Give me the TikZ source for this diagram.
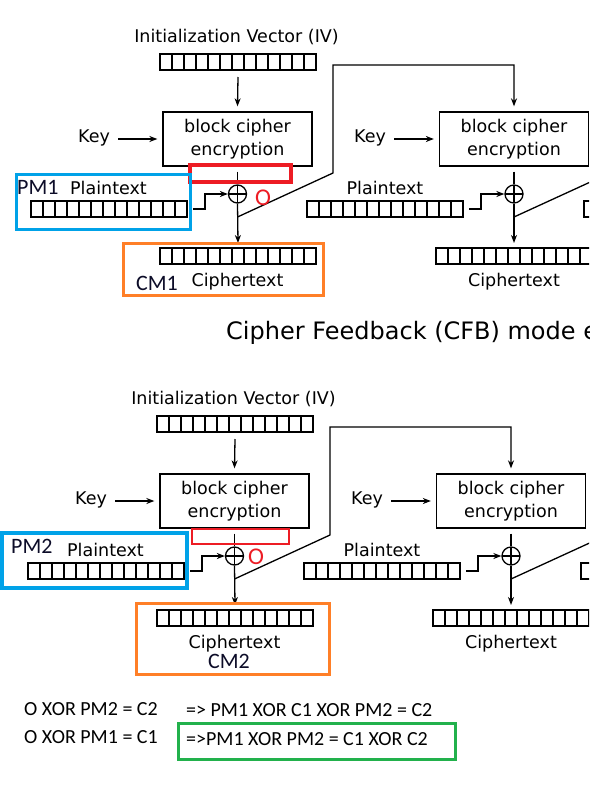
\documentclass[tikz,border=0pt]{standalone}
\usepackage{fontspec}
\setmainfont{DejaVu Sans}
\newfontfamily\calib{Carlito}
\usetikzlibrary{arrows.meta,calc}
\definecolor{annRed}{RGB}{237,28,36}
\definecolor{annBlue}{RGB}{0,162,232}
\definecolor{annOrange}{RGB}{255,127,39}
\definecolor{annGreen}{RGB}{34,177,76}
\definecolor{annInk}{RGB}{12,12,40}
\tikzset{
  wire/.style={line width=1.3pt, black},
  arr/.style={wire, -{Stealth[length=8pt,width=6pt,inset=2.5pt]}},
  register/.style={draw, line width=1.3pt, minimum width=156pt, minimum height=16pt,
    inner sep=0pt, outer sep=0pt,
    path picture={\foreach \i in {1,...,12}{\draw[line width=1.3pt]
      ($(path picture bounding box.south west)!\i/13!(path picture bounding box.south east)$) --
      ($(path picture bounding box.north west)!\i/13!(path picture bounding box.north east)$);}}},
  cipherbox/.style={draw, line width=1.3pt, minimum width=149pt, minimum height=54pt,
    inner sep=0pt, align=center, font=\fontsize{17.5}{22.5}\selectfont},
  xorgate/.style={draw, circle, line width=1.3pt, minimum size=18pt, inner sep=0pt,
    path picture={\draw[line width=1.3pt]
      (path picture bounding box.north) -- (path picture bounding box.south)
      (path picture bounding box.west) -- (path picture bounding box.east);}},
  lbl/.style={font=\fontsize{17.5}{21}\selectfont, inner sep=0pt, anchor=base},
  titlelbl/.style={font=\fontsize{24}{28}\selectfont, inner sep=0pt, anchor=base west},
  annbox/.style={line width=3pt},
  anntext/.style={font=\calib\fontsize{22}{26}\selectfont, text=annInk, inner sep=0pt, anchor=base west},
  anno/.style={font=\calib\fontsize{24}{28}\selectfont, text=annRed, inner sep=0pt, anchor=base west},
  eqtext/.style={font=\calib\fontsize{20}{24}\selectfont, text=black, inner sep=0pt, anchor=base west},
}
\newcommand{\cfbpanel}[1]{%
  % first block
  \node[lbl] (#1ivlbl) at (236.5,42.3) {Initialization Vector (IV)};
  \node[register] (#1iv) at (238,62) {};
  \node[cipherbox] (#1ciphA) at (237.5,139) {block cipher\\encryption};
  \node[lbl] (#1keyA) at (94,142.7) {Key};
  \node[xorgate] (#1xorA) at (237.5,194) {};
  \node[register] (#1ptA) at (109,209) {};
  \node[lbl] (#1ptAlbl) at (108.5,194.5) {Plaintext};
  \node[register] (#1ctA) at (238,256) {};
  \node[lbl] (#1ctAlbl) at (237.5,286.5) {Ciphertext};
  \coordinate (#1jA) at (237.5,217);
  \draw[arr] ([yshift=-7pt]#1iv.south) -- ([yshift=5pt]#1ciphA.north);
  \draw[arr] ([xshift=8pt]#1keyA.east |- #1ciphA.west) -- ([xshift=-5pt]#1ciphA.west);
  \draw[wire] ([yshift=-5pt]#1ciphA.south) -- (#1xorA.north);
  \draw[arr] (#1xorA.south) -- ([yshift=5pt]#1ctA.north);
  \draw[arr] ([xshift=6pt]#1ptA.east) -- ++(12,0) |- (#1xorA.west);
  % second block
  \node[cipherbox] (#1ciphB) at (514,139) {block cipher\\encryption};
  \node[lbl] (#1keyB) at (370,142.7) {Key};
  \node[xorgate] (#1xorB) at (514,194) {};
  \node[register] (#1ptB) at (385,209) {};
  \node[lbl] (#1ptBlbl) at (385,194.5) {Plaintext};
  \node[register] (#1ctB) at (514,256) {};
  \node[lbl] (#1ctBlbl) at (514,286.5) {Ciphertext};
  \coordinate (#1jB) at (514,217);
  \draw[arr] (#1jA) -- (333,173) -- (333,65) -| ([yshift=5pt]#1ciphB.north);
  \draw[arr] ([xshift=8pt]#1keyB.east |- #1ciphB.west) -- ([xshift=-5pt]#1ciphB.west);
  \draw[wire] ([yshift=-5pt]#1ciphB.south) -- (#1xorB.north);
  \draw[arr] (#1xorB.south) -- ([yshift=5pt]#1ctB.north);
  \draw[arr] ([xshift=6pt]#1ptB.east) -- ++(12,0) |- (#1xorB.west);
  % third block (mostly outside)
  \node[register] (#1ptC) at (662,209) {};
  \coordinate (#1fbC) at (610,173);
  \draw[wire] (#1jB) -- (#1fbC);
}
\begin{document}
\begin{tikzpicture}[x=1pt,y=-1pt]
  \useasboundingbox (0,0) rectangle (589,803);
  \fill[white] (0,0) rectangle (589,803);
  \clip (0,0) rectangle (589,803);
  % top panel
  \cfbpanel{t}
  \node[titlelbl] (title) at (226,339) {Cipher Feedback (CFB) mode encryption};
  % bottom panel
  \begin{scope}[shift={(-3,362)}]
    \cfbpanel{b}
  \end{scope}
  % annotations top
  \draw[annbox, annRed, line width=4pt] (190,165) rectangle (291,182);
  \draw[annbox, annBlue] (16,174) rectangle (190,229);
  \draw[annbox, annOrange] (123,243) rectangle (323,295);
  \node[anntext] (pmA) at (17,194) {PM1};
  \node[anntext] (cmA) at (136,290) {CM1};
  \node[anno] (oA) at (255,205) {O};
  % annotations bottom
  \draw[annbox, annRed, line width=2.5pt] (192,529) rectangle (289,544);
  \draw[annbox, annBlue, line width=4pt] (2,533) rectangle (187,588);
  \draw[annbox, annOrange] (136,603) rectangle (329,674);
  \node[anntext] (pmB) at (11,553) {PM2};
  \node[anntext] (cmB) at (208,668.5) {CM2};
  \node[anno] (oB) at (248,564) {O};
  % equations
  \node[eqtext] (eqA) at (24,715) {O XOR PM2 = C2};
  \node[eqtext] (eqB) at (24,743) {O XOR PM1 = C1};
  \node[eqtext] (eqC) at (186,716.5) {=> PM1 XOR C1 XOR PM2 = C2};
  \node[eqtext] (eqD) at (186,745) {=>PM1 XOR PM2 = C1 XOR C2};
  \draw[annbox, annGreen] (178,723) rectangle (455,759);
\end{tikzpicture}
\end{document}
